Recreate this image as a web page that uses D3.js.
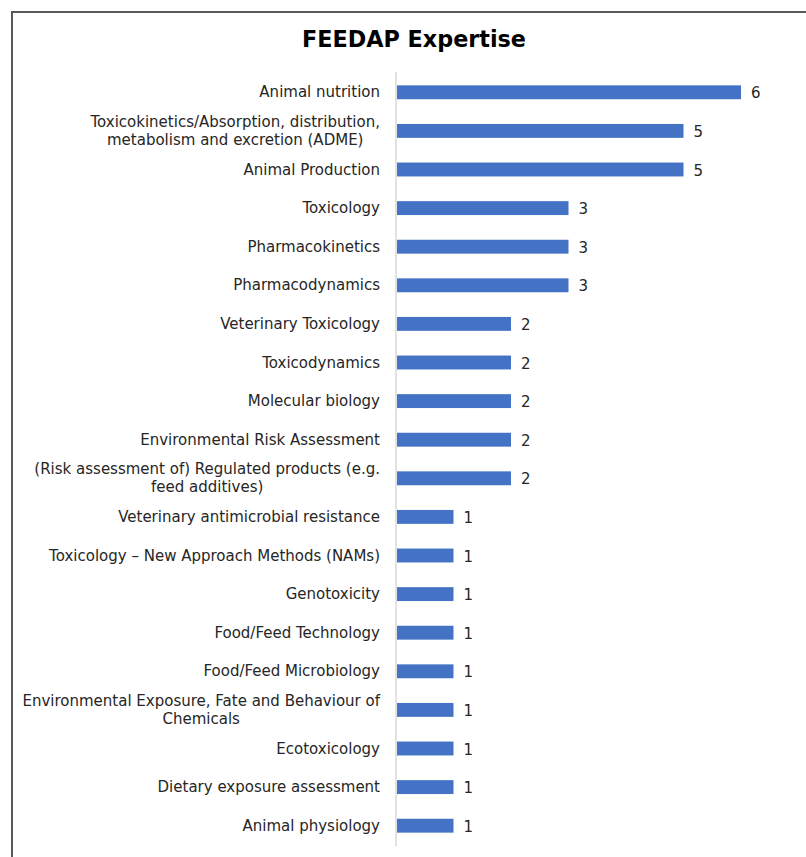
<!DOCTYPE html>
<html>
<head>
<meta charset="utf-8">
<script src="https://cdn.jsdelivr.net/npm/d3@7"></script>
<style>
  body { margin: 0; background: #fff; }
</style>
</head>
<body>
<div id="chart"></div>
<script>
let width = 806
let height = 857
let font = "'DejaVu Sans', sans-serif"

// data, top to bottom
let categories = [
  ["Animal nutrition"],
  ["Toxicokinetics/Absorption, distribution,", "metabolism and excretion (ADME)"],
  ["Animal Production"],
  ["Toxicology"],
  ["Pharmacokinetics"],
  ["Pharmacodynamics"],
  ["Veterinary Toxicology"],
  ["Toxicodynamics"],
  ["Molecular biology"],
  ["Environmental Risk Assessment"],
  ["(Risk assessment of) Regulated products (e.g.", "feed additives)"],
  ["Veterinary antimicrobial resistance"],
  ["Toxicology \u2013 New Approach Methods (NAMs)"],
  ["Genotoxicity"],
  ["Food/Feed Technology"],
  ["Food/Feed Microbiology"],
  ["Environmental Exposure, Fate and Behaviour of", "Chemicals"],
  ["Ecotoxicology"],
  ["Dietary exposure assessment"],
  ["Animal physiology"]
]
let values = [6, 5, 5, 3, 3, 3, 2, 2, 2, 2, 2, 1, 1, 1, 1, 1, 1, 1, 1, 1]
let title = "FEEDAP Expertise"

let svg = d3.select("#chart")
            .append("svg")
            .attr("width", width)
            .attr("height", height)

// outer frame (runs off the right and bottom of the picture)
svg.append("rect")
    .attr("x", 12).attr("y", 12)
    .attr("width", 820).attr("height", 870)
    .attr("fill", "none")
    .attr("stroke", "#595959")
    .attr("stroke-width", 2)

svg.append("text")
    .attr("x", 414)
    .attr("y", 47)
    .attr("text-anchor", "middle")
    .style("font-family", font)
    .style("font-weight", "bold")
    .style("font-size", "22.3px")
    .style("fill", "#000")
    .text(title)

let xScale = d3.scaleLinear()
    .domain([0, 6])
    .range([396, 741])

let yScale = d3.scaleBand()
    .domain(d3.range(categories.length))
    .range([73, 845])
    .paddingInner(0.64)
    .paddingOuter(0.32)

// vertical axis line
svg.append("line")
    .attr("x1", 396).attr("x2", 396)
    .attr("y1", 72).attr("y2", 846)
    .attr("stroke", "#d9d9d9")
    .attr("stroke-width", 1.5)

svg.selectAll("rect.bar")
    .data(values)
    .enter()
    .append("rect")
    .attr("class", "bar")
    .attr("fill", "#4472c4")
    .attr("x", xScale(0) + 1)
    .attr("y", function(d, i) { return yScale(i) })
    .attr("width", function(d) { return xScale(d) - xScale(0) - 1 })
    .attr("height", yScale.bandwidth())

// category labels
let labels = svg.selectAll("text.cat")
    .data(categories)
    .enter()
    .append("text")
    .attr("class", "cat")
    .attr("text-anchor", "end")
    .style("font-family", font)
    .style("font-size", "15px")
    .style("fill", "#262626")
    .attr("transform", function(d, i) {
        let cy = yScale(i) + yScale.bandwidth() / 2
        return "translate(380," + (cy + 5 - (d.length - 1) * 9) + ")"
    })

labels.each(function(d) {
    let t = d3.select(this)
    d.forEach(function(line, k) {
        t.append("tspan")
            .attr("x", 0)
            .attr("dy", k == 0 ? 0 : 18)
            .text(line)
    })
})
// second lines are centred under the first in the reference
labels.each(function(d) {
    if (d.length < 2) return
    let spans = d3.select(this).selectAll("tspan").nodes()
    let w0 = spans[0].getComputedTextLength()
    let w1 = spans[1].getComputedTextLength()
    d3.select(spans[1]).attr("x", -(w0 - w1) / 2)
})

// value labels
svg.selectAll("text.val")
    .data(values)
    .enter()
    .append("text")
    .attr("class", "val")
    .style("font-family", font)
    .style("font-size", "15px")
    .style("fill", "#262626")
    .attr("x", function(d) { return xScale(d) + 10 })
    .attr("y", function(d, i) { return yScale(i) + yScale.bandwidth() / 2 + 6 })
    .text(function(d) { return d })
</script>
</body>
</html>
